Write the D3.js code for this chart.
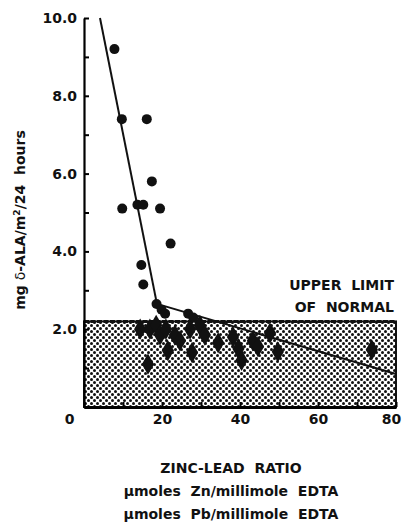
<!DOCTYPE html>
<html>
<head>
<meta charset="utf-8">
<script src="https://cdn.jsdelivr.net/npm/d3@7"></script>
<style>
  body { margin: 0; background: #fff; }
  text { font-family: "DejaVu Sans", "Liberation Sans", sans-serif; font-weight: bold; fill: #111; white-space: pre; }
</style>
</head>
<body>
<svg width="404" height="529"></svg>
<script>
// data
const circlePoints = [
  [7.8, 9.2], [9.7, 7.4], [16.1, 7.4], [17.4, 5.8], [9.8, 5.1], [13.7, 5.2],
  [15.2, 5.2], [19.5, 5.1], [22.2, 4.2], [14.7, 3.65], [15.2, 3.15], [18.6, 2.65],
  [19.9, 2.5], [20.8, 2.4], [26.7, 2.4], [28.0, 2.3]
];
const diamondPoints = [
  [14.4, 2.0], [16.9, 2.0], [18.5, 2.1], [19.5, 1.85], [21.0, 2.0], [23.3, 1.85], [27.2, 2.0],
  [29.7, 2.1], [31.0, 1.85], [24.6, 1.7], [21.5, 1.45], [27.7, 1.4], [16.4, 1.1],
  [34.4, 1.65], [38.2, 1.8], [39.6, 1.5], [40.4, 1.2], [43.3, 1.7], [44.6, 1.55],
  [47.7, 1.9], [49.7, 1.42], [73.8, 1.47]
];
const steepFit = [[4.1, 10.0], [18.7, 2.65]];
const shallowFit = [[18.7, 2.65], [80, 0.85]];
const upperLimit = 2.2;
const xTicks = [0, 10, 20, 30, 40, 50, 60, 70, 80];
const xLabels = [0, 20, 40, 60, 80];
const yTicks = [0, 1, 2, 3, 4, 5, 6, 7, 8, 9, 10];
const yLabels = [2, 4, 6, 8, 10];

let svg = d3.select("svg");
const width = 404, height = 529;

let xScale = d3.scaleLinear().domain([0, 80]).range([84, 396]);
let yScale = d3.scaleLinear().domain([0, 10]).range([407, 18]);

// dotted shading pattern
let pat = svg.append("defs").append("pattern")
  .attr("id", "dots").attr("patternUnits", "userSpaceOnUse")
  .attr("width", 6).attr("height", 6);
pat.append("rect").attr("width", 6).attr("height", 6).attr("fill", "#fff");
pat.append("circle").attr("cx", 1.5).attr("cy", 1.5).attr("r", 1.5).attr("fill", "#111");
pat.append("circle").attr("cx", 4.5).attr("cy", 4.5).attr("r", 1.5).attr("fill", "#111");

// normal range band
svg.append("rect")
  .attr("x", xScale(0)).attr("y", yScale(upperLimit))
  .attr("width", xScale(80) - xScale(0))
  .attr("height", yScale(0) - yScale(upperLimit))
  .attr("fill", "url(#dots)")
  .attr("stroke", "#111").attr("stroke-width", 2);
svg.append("line")
  .attr("x1", xScale(0)).attr("x2", xScale(80))
  .attr("y1", yScale(upperLimit)).attr("y2", yScale(upperLimit))
  .attr("stroke", "#111").attr("stroke-width", 3)
  .attr("stroke-dasharray", "5,1.5");

// axes
let yAxis = d3.axisLeft(yScale).tickValues(yTicks).tickSizeInner(-5).tickSizeOuter(0)
  .tickPadding(7)
  .tickFormat(d => yLabels.includes(d) ? d3.format(".1f")(d) : "");
let gy = svg.append("g").attr("transform", `translate(${xScale(0)},0)`).call(yAxis);
gy.select(".domain").attr("stroke-width", 2.2);
gy.selectAll(".tick line").attr("stroke-width", 2);
gy.selectAll("text").style("font-size", "14px").attr("fill", "#111");

let xAxis = d3.axisBottom(xScale).tickValues(xTicks).tickSizeInner(-5).tickSizeOuter(0)
  .tickPadding(7)
  .tickFormat(d => xLabels.includes(d) ? d : "");
let gx = svg.append("g").attr("transform", `translate(0,${yScale(0)})`).call(xAxis);
gx.select(".domain").attr("stroke-width", 3);
gx.selectAll(".tick line").attr("stroke-width", 2);
gx.selectAll("text").style("font-size", "14px").attr("fill", "#111")
  .attr("dx", d => d === 0 ? -15 : d === 80 ? -5 : 0);

// fitted lines
let line = d3.line().x(d => xScale(d[0])).y(d => yScale(d[1]));
[steepFit, shallowFit].forEach(seg => {
  svg.append("path").datum(seg).attr("d", line)
    .attr("fill", "none").attr("stroke", "#111").attr("stroke-width", 2);
});

// points
svg.append("g").selectAll("path").data(diamondPoints).join("path")
  .attr("transform", d => `translate(${xScale(d[0])},${yScale(d[1])})`)
  .attr("d", d3.symbol(d3.symbolDiamond, 130))
  .attr("fill", "#111");
svg.append("g").selectAll("circle").data(circlePoints).join("circle")
  .attr("cx", d => xScale(d[0])).attr("cy", d => yScale(d[1]))
  .attr("r", 5).attr("fill", "#111");

// band label
svg.append("text").attr("x", 394).attr("y", 290).attr("text-anchor", "end")
  .style("font-size", "14px").text("UPPER  LIMIT");
svg.append("text").attr("x", 394).attr("y", 312).attr("text-anchor", "end")
  .style("font-size", "14px").text("OF  NORMAL");

// y axis title
let yt = svg.append("text")
  .attr("transform", "translate(25,220) rotate(-90)")
  .attr("text-anchor", "middle").style("font-size", "14px");
yt.append("tspan").text("mg ");
yt.append("tspan").style("font-weight", "normal").text("δ");
yt.append("tspan").text("-ALA/m");
yt.append("tspan").attr("baseline-shift", "super").style("font-size", "9px").text("2");
yt.append("tspan").text("/24  hours");

// x axis titles
const xTitles = ["ZINC-LEAD  RATIO", "μmoles  Zn/millimole  EDTA", "μmoles  Pb/millimole  EDTA"];
svg.append("g").selectAll("text").data(xTitles).join("text")
  .attr("x", 231).attr("y", (d, i) => 473 + i * 23)
  .attr("text-anchor", "middle").style("font-size", "14px")
  .text(d => d);
</script>
</body>
</html>
